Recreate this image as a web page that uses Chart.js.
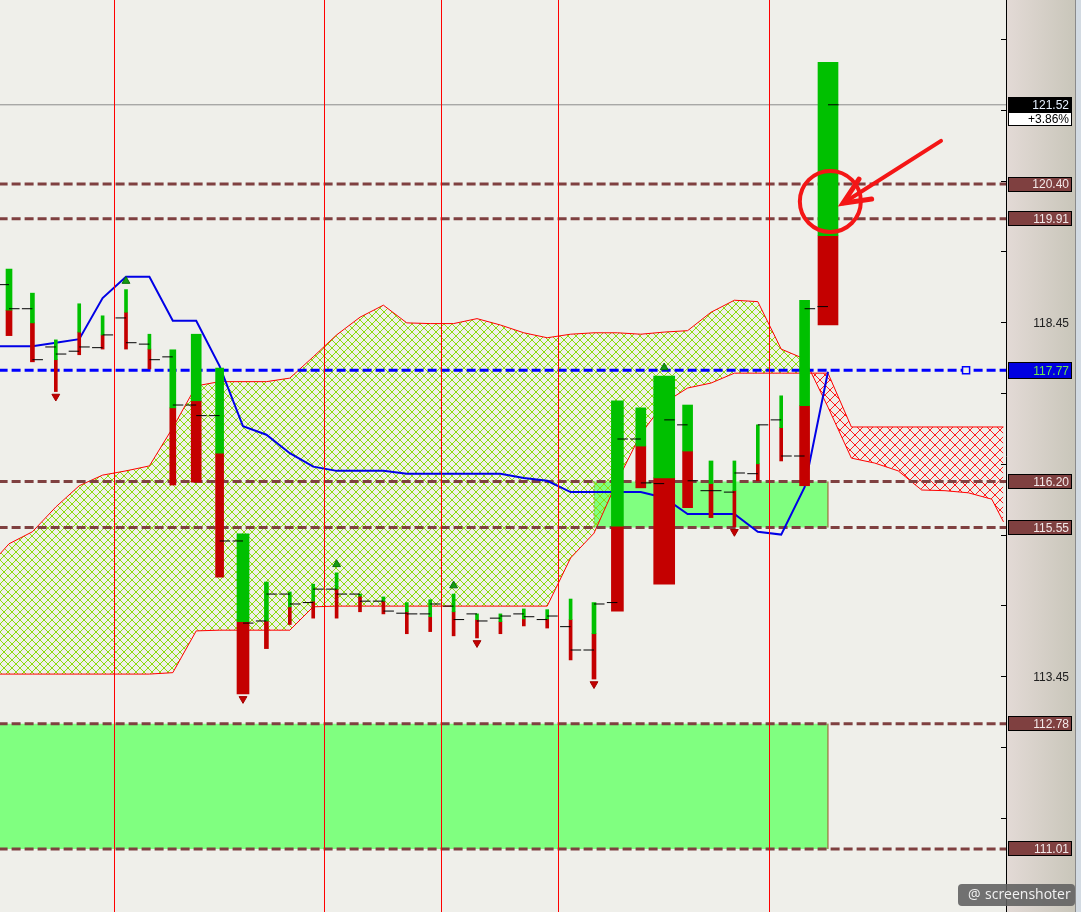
<!DOCTYPE html>
<html>
<head>
<meta charset="utf-8">
<title>Price chart - Ichimoku</title>
<script src="https://cdn.jsdelivr.net/npm/chart.js@4.4.1/dist/chart.umd.min.js"></script>
<style>
  html, body { margin: 0; padding: 0; background: #efefea; }
  #wrap { width: 1081px; height: 912px; position: relative; }
</style>
</head>
<body>
<div id="wrap"><canvas id="chart"></canvas></div>
<script>
// Bars (one per period, index 0..35)
const barHigh  = [119.20, 118.86, 118.20, 118.71, 118.54, 118.91, 118.28, 118.06, 118.28, 117.80, 115.46, 114.78, 114.64, 114.75, 114.91, 114.61, 114.57, 114.49, 114.53, 114.61, 114.33, 114.33, 114.40, 114.39, 114.54, 114.49, 117.34, 117.24, 117.69, 117.28, 116.49, 116.49, 117.00, 117.41, 118.76, 122.12];
const barLow   = [118.26, 117.89, 117.47, 117.99, 118.07, 118.07, 117.79, 116.15, 116.19, 114.85, 113.20, 113.84, 114.18, 114.27, 114.27, 114.36, 114.33, 114.05, 114.08, 114.02, 113.99, 114.05, 114.16, 114.13, 113.68, 113.41, 114.37, 116.11, 114.75, 115.83, 115.69, 115.56, 116.21, 116.49, 116.14, 118.41];
const barSplit = [118.62, 118.44, 117.92, 118.31, 118.27, 118.59, 118.07, 117.24, 117.34, 116.60, 114.22, 114.23, 114.43, 114.51, 114.68, 114.58, 114.51, 114.36, 114.29, 114.36, 114.25, 114.22, 114.26, 114.26, 114.25, 114.05, 115.57, 116.70, 116.25, 116.63, 116.17, 116.07, 116.45, 116.96, 117.27, 119.67];
const barOpen  = [118.98, 118.64, 118.10, 118.04, 118.09, 118.51, 118.14, 117.96, 117.28, 117.13, 115.36, 114.23, 114.61, 114.49, 114.68, 114.61, 114.51, 114.34, 114.33, 114.44, 114.33, 114.27, 114.33, 114.25, 114.15, 113.82, 114.49, 116.80, 116.17, 117.00, 116.07, 116.05, 116.31, 117.07, 116.56, 118.67];
const barClose = [118.64, 117.92, 118.00, 118.10, 118.27, 118.16, 117.92, 117.28, 117.13, 115.36, 114.20, 114.61, 114.47, 114.68, 114.61, 114.51, 114.37, 114.33, 114.47, 114.25, 114.23, 114.30, 114.29, 114.30, 113.82, 114.47, 116.80, 116.18, 117.07, 116.21, 116.07, 116.32, 117.00, 116.56, 118.64, 121.52];
const barVolume = [58, 41, 27, 25, 28, 30, 26, 62, 98, 80, 121, 39, 24, 27, 25, 22, 26, 24, 27, 23, 22, 24, 21, 25, 29, 42, 118, 101, 212, 99, 38, 29, 27, 31, 97, 204];

// signal markers (bar indexes)
const upSignals = [5, 14, 19, 28];
const downSignals = [2, 10, 20, 25, 31];

// Ichimoku cloud (shifted forward)
const cloudIndex = [-1, 0, 1, 2, 3, 4, 5, 6, 7, 8, 9, 10, 11, 12, 13, 14, 15, 16, 17, 18, 19, 20, 21, 22, 23, 24, 25, 26, 27, 28, 29, 30, 31, 32, 33, 34, 35, 36, 37, 38, 39, 40, 41, 42, 42.5];
const spanA = [114.95, 115.32, 115.49, 115.84, 116.14, 116.29, 116.35, 116.42, 116.96, 117.55, 117.61, 117.61, 117.61, 117.66, 117.96, 118.27, 118.52, 118.69, 118.44, 118.43, 118.43, 118.50, 118.41, 118.30, 118.23, 118.28, 118.30, 118.30, 118.28, 118.31, 118.33, 118.59, 118.76, 118.74, 118.07, 117.93, 117.25, 116.53, 116.46, 116.35, 116.08, 116.07, 116.04, 115.95, 115.63];
const spanB = [113.48, 113.48, 113.48, 113.48, 113.48, 113.48, 113.48, 113.48, 113.50, 114.09, 114.10, 114.10, 114.10, 114.10, 114.43, 114.44, 114.44, 114.44, 114.44, 114.44, 114.44, 114.44, 114.44, 114.44, 114.44, 115.12, 115.47, 116.21, 116.87, 117.31, 117.52, 117.59, 117.73, 117.73, 117.73, 117.73, 117.73, 116.97, 116.97, 116.97, 116.97, 116.97, 116.97, 116.97, 116.97];

// base line (blue)
const baseIndex = [-1, 0, 1, 2, 3, 4, 5, 6, 7, 8, 9, 10, 11, 12, 13, 14, 15, 16, 17, 18, 19, 20, 21, 22, 23, 24, 25, 26, 27, 28, 29, 30, 31, 32, 33, 34, 35];
const baseLine = [118.11, 118.11, 118.11, 118.16, 118.21, 118.79, 119.09, 119.09, 118.47, 118.47, 117.83, 116.98, 116.86, 116.60, 116.41, 116.35, 116.35, 116.35, 116.31, 116.31, 116.31, 116.31, 116.31, 116.25, 116.21, 116.05, 116.05, 116.05, 116.05, 115.97, 115.74, 115.74, 115.74, 115.49, 115.45, 116.12, 117.75];

// levels and zones
const levels = [120.40, 119.91, 116.20, 115.55, 112.78, 111.01];
const lastPrice = 121.52;
const lastChange = '+3.86%';
const alertLevel = 117.77;
const alertMarkAt = 40.9;
const zoneStart = [25, -1];
const zoneEnd = [35, 35];
const zoneTop = [116.20, 112.78];
const zoneBottom = [115.55, 111.01];

// session separators and price axis
const sessionBreaks = [4.5, 13.5, 18.5, 23.5, 32.5];
const yTicks = [111.45, 112.45, 113.45, 114.45, 115.45, 116.45, 117.45, 118.45, 119.45, 120.45, 121.45, 122.45];
const labeledTicks = [118.45, 113.45];

const BG = '#efefea';
const GREEN = '#00c000';
const RED = '#c40000';
const LEVEL_COLOR = '#7f4040';
const FONT = '12px "Liberation Sans", Arial, sans-serif';

// let the plot run right up to the canvas edges
Chart.LineController.prototype.getMaxOverflow = function () { return 0; };

function hatch(color, size) {
    const c = document.createElement('canvas');
    c.width = c.height = size;
    const g = c.getContext('2d');
    g.fillStyle = color;
    for (let k = 0; k < size; k++) {
        g.fillRect(k, k, 1, 1);
        g.fillRect(size - 1 - k, k, 1, 1);
    }
    return g.createPattern(c, 'repeat');
}
const greenHatch = hatch('#8bdc0c', 8);
const redHatch = hatch('#ff1a1a', 10);

const datasets = [];

// zones (behind everything)
zoneTop.forEach((top, k) => {
    datasets.push({
        type: 'line', order: 100, clip: 0,
        data: [{ x: zoneStart[k], y: top }, { x: zoneEnd[k], y: top }],
        borderColor: 'transparent', borderWidth: 1, fill: false
    });
    datasets.push({
        type: 'line', order: 100, clip: 0,
        data: [{ x: zoneStart[k], y: zoneBottom[k] }, { x: zoneEnd[k], y: zoneBottom[k] }],
        borderColor: 'transparent', borderWidth: 1, fill: '-1', backgroundColor: '#80ff80'
    });
    datasets.push({
        type: 'line', order: 95, clip: 0,
        data: [{ x: zoneEnd[k], y: zoneBottom[k] }, { x: zoneEnd[k], y: top }],
        borderColor: '#9a5528', borderWidth: 1, fill: false
    });
    datasets.push({
        type: 'line', order: 95, clip: 0,
        data: [{ x: zoneStart[k], y: zoneBottom[k] }, { x: zoneStart[k], y: top }],
        borderColor: '#9a5528', borderWidth: 1, borderDash: [2, 2], fill: false
    });
});

// cloud: span B then span A filled against it
datasets.push({
    type: 'line', order: 90, clip: 0,
    data: cloudIndex.map((x, k) => ({ x, y: spanB[k] })),
    borderColor: '#ff0000', borderWidth: 1, fill: false
});
datasets.push({
    type: 'line', order: 90, clip: 0,
    data: cloudIndex.map((x, k) => ({ x, y: spanA[k] })),
    borderColor: '#ff0000', borderWidth: 1,
    fill: { target: '-1', above: greenHatch, below: redHatch }
});

// horizontal levels
levels.forEach(v => {
    datasets.push({
        type: 'line', order: 80, clip: 0,
        data: [{ x: -1, y: v }, { x: 44, y: v }],
        borderColor: LEVEL_COLOR, borderWidth: 3, borderDash: [9, 4], fill: false
    });
});
datasets.push({
    type: 'line', order: 80, clip: 0,
    data: [{ x: -1, y: lastPrice }, { x: 44, y: lastPrice }],
    borderColor: '#8c8c8c', borderWidth: 1, fill: false
});
datasets.push({
    type: 'line', order: 70, clip: 0,
    data: [{ x: -1, y: alertLevel }, { x: 44, y: alertLevel }],
    borderColor: '#0000ff', borderWidth: 3, borderDash: [9, 4], fill: false
});
datasets.push({
    type: 'line', order: 69, showLine: false,
    data: [{ x: alertMarkAt, y: alertLevel }],
    pointStyle: 'rect', pointRadius: 5, borderColor: '#0000ff', borderWidth: 1.5, backgroundColor: BG
});

// base line
datasets.push({
    type: 'line', order: 60, clip: 0,
    data: baseIndex.map((x, k) => ({ x, y: baseLine[k] })),
    borderColor: '#0000e6', borderWidth: 2, fill: false
});

// bars, grouped by width
const widths = barVolume.map(v => Math.max(3, Math.round(v / 10)));
[...new Set(widths)].forEach(w => {
    const idx = [];
    widths.forEach((x, i) => { if (x === w) idx.push(i); });
    datasets.push({
        type: 'bar', order: 50, grouped: false, barThickness: w, borderWidth: 0,
        data: idx.map(i => ({ x: i, y: [barSplit[i], barHigh[i]] })),
        backgroundColor: GREEN
    });
    datasets.push({
        type: 'bar', order: 50, grouped: false, barThickness: w, borderWidth: 0,
        data: idx.map(i => ({ x: i, y: [barLow[i], barSplit[i]] })),
        backgroundColor: RED
    });
});

// open / close ticks
const tickPts = [];
barOpen.forEach((o, i) => {
    tickPts.push({ x: i - 0.45, y: o }, { x: i, y: o }, { x: i, y: null });
    tickPts.push({ x: i, y: barClose[i] }, { x: i + 0.45, y: barClose[i] }, { x: i, y: null });
});
datasets.push({
    type: 'line', order: 40, data: tickPts,
    borderColor: '#000', borderWidth: 1, fill: false, spanGaps: false
});

// signal triangles
datasets.push({
    type: 'line', order: 40, showLine: false,
    data: upSignals.map(i => ({ x: i, y: barHigh[i] + 0.12 })),
    pointStyle: 'triangle', pointRadius: 4.5, backgroundColor: '#139a13', borderColor: '#0b6e0b', borderWidth: 1
});
datasets.push({
    type: 'line', order: 40, showLine: false,
    data: downSignals.map(i => ({ x: i, y: barLow[i] - 0.07 })),
    pointStyle: 'triangle', rotation: 180, pointRadius: 4.5, backgroundColor: RED, borderColor: '#a00000', borderWidth: 1
});

// circle + arrow annotation, anchored to the breakout bar
const circleAt = [35.1, (levels[0] + levels[1]) / 2];
const arrowFrom = [39.83, 121.01];
const arrowTo = [35.64, 120.13];

function labelBox(ctx, a, py, text, bg, fg, h) {
    const x0 = a.right + 2, w = 64;
    ctx.fillStyle = bg;
    ctx.fillRect(x0, Math.round(py - h / 2), w, h);
    ctx.strokeStyle = '#000';
    ctx.lineWidth = 1;
    ctx.strokeRect(x0 + 0.5, Math.round(py - h / 2) + 0.5, w - 1, h - 1);
    ctx.fillStyle = fg;
    ctx.textAlign = 'right';
    ctx.textBaseline = 'middle';
    ctx.fillText(text, x0 + w - 3, py + 1);
}

const overlay = {
    id: 'overlay',
    beforeDraw(chart) {
        const { ctx, chartArea: a, width, height } = chart;
        ctx.save();
        ctx.fillStyle = BG;
        ctx.fillRect(0, 0, width, height);
        const g = ctx.createLinearGradient(a.right, 0, width - 6, 0);
        g.addColorStop(0, '#e3dad6');
        g.addColorStop(1, '#c9c6ba');
        ctx.fillStyle = g;
        ctx.fillRect(a.right, 0, width - a.right, height);
        ctx.fillStyle = '#8a8a8a';
        ctx.fillRect(width - 6, 0, 1, height);
        ctx.fillStyle = '#d2dae2';
        ctx.fillRect(width - 5, 0, 5, height);
        ctx.restore();
    },
    afterDraw(chart) {
        const { ctx, chartArea: a, scales: { x, y } } = chart;
        ctx.save();
        ctx.font = FONT;

        // axis ticks and plain labels
        ctx.strokeStyle = '#000';
        ctx.lineWidth = 1;
        y.ticks.forEach(t => {
            const py = Math.round(y.getPixelForValue(t.value)) + 0.5;
            ctx.beginPath();
            ctx.moveTo(a.right - 5, py);
            ctx.lineTo(a.right, py);
            ctx.stroke();
            if (labeledTicks.includes(t.value)) {
                ctx.fillStyle = '#202020';
                ctx.textAlign = 'right';
                ctx.textBaseline = 'middle';
                ctx.fillText(t.value.toFixed(2), a.right + 63, py + 1);
            }
        });

        // level labels
        levels.forEach(v => labelBox(ctx, a, y.getPixelForValue(v), v.toFixed(2), LEVEL_COLOR, '#f3e9e9', 15));
        labelBox(ctx, a, y.getPixelForValue(alertLevel), alertLevel.toFixed(2), '#0000e0', '#6fe84a', 17);
        const lp = y.getPixelForValue(lastPrice);
        labelBox(ctx, a, lp, lastPrice.toFixed(2), '#000', '#e6f0ff', 15);
        labelBox(ctx, a, lp + 14, lastChange, '#fff', '#000', 14);

        // red circle and arrow
        ctx.strokeStyle = '#f41616';
        ctx.lineWidth = 4;
        ctx.beginPath();
        ctx.arc(x.getPixelForValue(circleAt[0]), y.getPixelForValue(circleAt[1]), 30.5, 0, Math.PI * 2);
        ctx.stroke();
        const tx = x.getPixelForValue(arrowTo[0]), ty = y.getPixelForValue(arrowTo[1]);
        const fx = x.getPixelForValue(arrowFrom[0]), fy = y.getPixelForValue(arrowFrom[1]);
        const ang = Math.atan2(fy - ty, fx - tx);
        ctx.lineCap = 'round';
        ctx.beginPath();
        ctx.moveTo(fx, fy);
        ctx.lineTo(tx, ty);
        ctx.stroke();
        ctx.lineWidth = 5;
        ctx.lineJoin = 'miter';
        ctx.beginPath();
        ctx.moveTo(tx + 29 * Math.cos(ang - 0.42), ty + 29 * Math.sin(ang - 0.42));
        ctx.lineTo(tx, ty);
        ctx.lineTo(tx + 29 * Math.cos(ang + 0.42), ty + 29 * Math.sin(ang + 0.42));
        ctx.stroke();

        // watermark
        ctx.fillStyle = 'rgba(96,96,96,0.88)';
        ctx.beginPath();
        ctx.roundRect(958, 884, 117, 22, 4);
        ctx.fill();
        ctx.fillStyle = '#f2f2f2';
        ctx.textAlign = 'left';
        ctx.textBaseline = 'middle';
        ctx.font = '14px "Open Sans", "DejaVu Sans", sans-serif';
        ctx.fillText('@', 968, 895);
        ctx.fillText('screenshoter', 985, 895);
        ctx.restore();
    }
};

new Chart(document.getElementById('chart'), {
    type: 'line',
    data: { datasets },
    options: {
        responsive: true,
        maintainAspectRatio: false,
        animation: false,
        events: [],
        layout: { padding: 0 },
        plugins: { legend: { display: false }, tooltip: { enabled: false } },
        elements: { point: { radius: 0 }, line: { tension: 0 } },
        scales: {
            x: {
                type: 'linear', min: -0.385, max: 42.607, offset: false,
                afterBuildTicks: s => { s.ticks = sessionBreaks.map(v => ({ value: v })); },
                ticks: { display: false },
                // session lines sit above the zones and the cloud
                grid: { color: '#ff0000', lineWidth: 1, drawTicks: false, offset: false, z: 1 },
                border: { display: false }
            },
            y: {
                type: 'linear', position: 'right', min: 110.12, max: 123.0,
                afterBuildTicks: s => { s.ticks = yTicks.map(v => ({ value: v })); },
                afterFit: s => { s.width = 75; },
                ticks: { display: false },
                grid: { display: false },
                border: { display: true, color: '#000', width: 1 }
            }
        }
    },
    plugins: [overlay]
});
</script>
</body>
</html>
